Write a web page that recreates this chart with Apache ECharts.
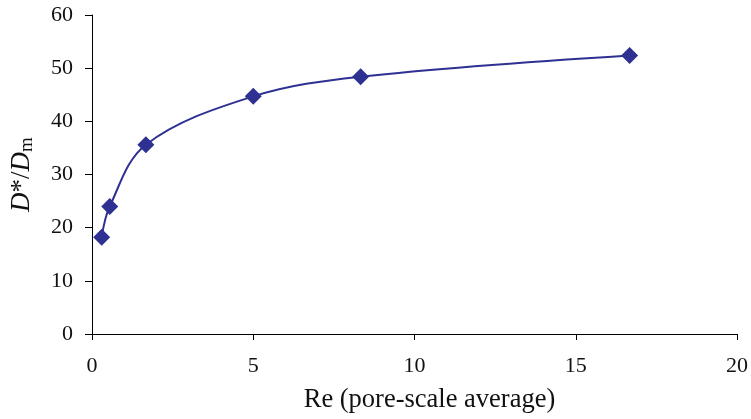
<!DOCTYPE html>
<html>
<head>
<meta charset="utf-8">
<script src="https://cdn.jsdelivr.net/npm/echarts@6/dist/echarts.min.js"></script>
<style>html,body{margin:0;padding:0;background:#fff;}#c{width:751px;height:419px;}</style>
</head>
<body>
<div id="c"></div>
<script>
var reValues = [0.3, 0.55, 1.67, 5.0, 8.33, 16.67];
var dRatio = [18.2, 24.0, 35.6, 44.7, 48.4, 52.4];
var xTicks = [0, 5, 10, 15, 20];
var yTicks = [0, 10, 20, 30, 40, 50, 60];

var pts = reValues.map(function (x, i) { return [x, dRatio[i]]; });
var chart = echarts.init(document.getElementById('c'));
var font = 'Liberation Serif';
chart.setOption({
  animation: false,
  grid: { left: 92, right: 11, top: 15, bottom: 82 },
  xAxis: {
    type: 'value', min: xTicks[0], max: xTicks[xTicks.length - 1], interval: 5,
    axisLine: { lineStyle: { color: '#000', width: 1 } },
    axisTick: { show: true, length: 6, lineStyle: { color: '#000' } },
    splitLine: { show: false },
    axisLabel: { color: '#111', fontFamily: font, fontSize: 22, margin: 21 },
    name: 'Re (pore-scale average)', nameLocation: 'middle', nameGap: 53,
    nameTextStyle: { color: '#111', fontFamily: font, fontSize: 26.5, padding: [0, 0, 0, 30] }
  },
  yAxis: {
    type: 'value', min: yTicks[0], max: yTicks[yTicks.length - 1], interval: 10,
    axisLine: { show: true, lineStyle: { color: '#000', width: 1 } },
    axisTick: { show: true, length: 7, lineStyle: { color: '#000' } },
    splitLine: { show: false },
    axisLabel: { color: '#111', fontFamily: font, fontSize: 22, margin: 19 },
    name: '{i|D}{n|*/}{i|D}{s|m}', nameLocation: 'middle', nameGap: 55, nameRotate: 90,
    nameTextStyle: {
      color: '#111', fontFamily: font, fontSize: 27,
      rich: {
        i: { fontFamily: font, fontSize: 27, fontStyle: 'italic', color: '#111' },
        n: { fontFamily: font, fontSize: 27, color: '#111' },
        s: { fontFamily: font, fontSize: 19, color: '#111', verticalAlign: 'bottom', padding: [12, 0, 0, 0] }
      }
    }
  },
  series: [{
    type: 'line', data: pts, smooth: 0.35,
    symbol: 'diamond', symbolSize: 17,
    lineStyle: { color: '#2E3192', width: 2 },
    itemStyle: { color: '#2E3192' }
  }]
});
</script>
</body>
</html>
